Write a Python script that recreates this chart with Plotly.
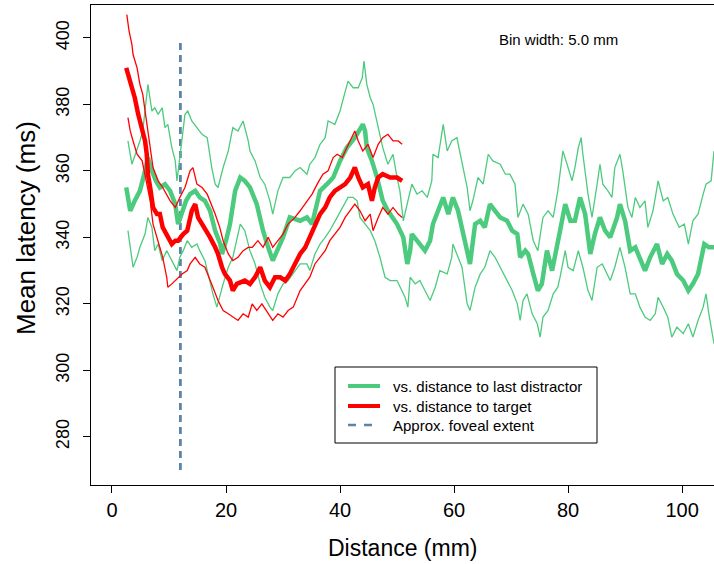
import plotly.graph_objects as go

# ---------------- data ----------------
# Green: latency vs. distance to last distractor (mean and band)
gm_x = [2.5,3.2,4.0,4.9,5.8,6.3,7.0,7.7,8.4,9.3,10.2,11.1,11.6,12.3,13.0,13.7,14.6,15.4,16.3,17.2,
        18.1,19.0,19.3,20.0,20.7,21.6,22.5,23.3,24.2,25.4,26.5,27.4,28.2,30.0,31.2,33.0,34.2,35.1,36.5,37.7,
        38.8,40.0,41.2,42.6,44.0,44.4,44.7,45.6,46.5,47.5,48.4,50.0,51.1,51.8,52.3,52.6,53.5,54.9,55.8,56.3,
        57.2,58.1,59.0,59.8,60.7,61.9,62.8,63.7,64.6,65.4,66.3,67.2,68.1,69.3,70.2,71.1,71.6,72.5,73.0,73.9,
        74.7,75.4,76.3,77.2,78.1,78.6,79.5,80.4,81.2,82.1,83.0,83.9,84.7,85.6,86.5,87.4,88.6,89.1,90.0,90.9,
        91.8,92.6,93.5,94.4,95.6,96.5,97.4,98.2,99.1,100.2,101.1,101.9,102.8,103.9,104.7,105.6]
gm_y = [355,348,351,354,360,364,360,357,355,356,354,350,344,348,351,353,354,352,351,348,
        342,338,335,339,344,354,358,357,355,350,342,337,333,340,346,345,346,344,354,356,
        358,363,367,370,374,372,367,363,358,351,348,344,340,332,336,341,339,336,339,344,
        348,352,347,352,348,339,332,344,345,343,350,348,346,345,342,341,334,336,335,329,
        324,326,336,330,337,342,350,345,345,352,347,335,341,346,342,340,346,350,345,336,
        337,334,330,334,338,332,335,333,329,327,324,326,329,338,337,337]

gu_x = [2.8,3.5,4.9,5.4,6.3,7.0,7.5,8.1,8.8,9.3,9.8,10.5,11.1,11.4,11.9,12.8,13.3,14.0,14.9,15.8,
        16.7,17.5,18.1,18.6,19.5,20.4,21.2,22.1,23.0,23.9,24.2,25.1,26.0,26.8,27.7,28.2,29.1,30.0,31.2,32.1,
        33.0,34.2,34.7,35.6,36.5,37.4,37.9,39.1,40.0,40.5,41.4,42.3,43.2,43.9,44.2,44.7,45.3,45.8,46.7,47.5,
        48.4,49.3,50.0,50.5,51.1,52.6,53.5,54.4,55.3,56.1,56.3,57.2,58.1,58.8,59.6,60.5,61.1,61.6,62.3,62.8,
        63.3,64.2,65.1,66.0,66.8,68.1,69.0,69.8,70.7,71.2,72.1,73.0,73.9,74.7,75.6,76.5,77.4,78.2,79.1,80.0,
        80.7,81.2,81.8,82.3,82.6,83.5,84.2,85.1,85.6,86.1,87.0,87.7,88.2,89.1,89.6,90.5,91.2,91.8,92.6,93.5,
        94.0,94.9,95.8,96.7,97.5,98.4,99.5,100.4,101.1,101.9,102.8,103.7,104.2,105.1,105.6]
gu_y = [369,362,369,372,386,378,379,377,379,373,374,367,363,357,364,377,378,375,373,371,
        370,361,356,355,361,366,373,372,375,369,366,363,358,356,351,347,354,358,358,360,
        361,359,362,364,368,370,375,374,378,381,387,385,385,388,393,386,382,380,373,367,
        362,365,358,354,345,356,353,354,352,357,365,364,374,366,369,370,365,361,355,348,
        351,358,356,365,363,362,359,359,356,346,350,347,339,336,346,348,346,354,366,361,
        357,361,367,370,365,353,346,356,362,356,354,352,361,365,360,349,346,352,349,351,
        343,348,357,351,352,347,343,344,338,345,347,353,356,357,366]

gl_x = [2.8,3.7,4.4,4.9,5.8,6.3,7.0,7.5,8.1,8.8,9.6,10.5,11.4,11.9,12.5,13.2,14.0,14.9,15.4,16.3,
        17.2,17.7,18.4,19.0,19.5,20.4,21.2,22.5,23.3,24.2,25.1,26.0,26.8,27.7,28.2,29.1,30.0,30.9,32.1,33.0,
        34.2,34.7,35.6,36.5,37.4,38.2,39.5,40.4,41.4,42.3,43.0,43.5,44.4,45.3,46.1,47.0,47.9,48.8,50.0,50.9,
        51.4,51.9,52.3,53.2,54.0,54.9,55.8,56.7,57.5,58.8,59.6,59.8,60.7,61.4,62.3,62.8,63.7,64.6,65.4,66.3,
        67.2,68.1,69.3,70.2,71.1,71.6,72.1,72.8,73.7,74.6,75.1,75.6,76.5,77.4,78.2,78.6,79.5,80.0,80.9,81.8,
        82.6,83.5,84.2,85.1,86.0,86.8,87.4,88.2,89.1,90.0,90.9,91.8,92.6,93.5,94.4,95.3,95.8,96.7,97.5,98.2,
        99.1,100.2,101.1,101.9,102.8,103.7,104.2,104.7,105.6]
gl_y = [342,331,334,337,341,346,343,336,338,333,336,333,330,334,336,339,337,338,336,333,
        326,323,319,323,326,331,334,344,342,336,332,326,322,319,318,323,326,327,330,332,
        332,330,335,338,340,342,346,349,352,352,351,346,344,342,339,334,328,327,327,324,
        322,319,328,326,327,324,321,325,330,329,334,338,334,331,320,318,325,329,331,336,
        334,331,327,324,320,315,321,323,317,314,310,316,318,323,325,328,336,331,330,336,
        331,324,321,331,332,329,327,331,337,331,323,323,319,316,315,317,322,319,316,310,
        313,311,314,310,315,319,323,317,308]

# Red: latency vs. distance to target (mean and band)
rm_x = [2.5,3.2,4.0,4.6,5.3,5.8,6.1,6.3,6.7,7.2,7.9,8.4,8.9,9.8,10.5,11.1,11.6,12.5,13.2,14.0,
        14.6,15.1,15.8,16.3,17.2,18.1,18.6,19.3,19.8,20.7,21.2,21.9,23.3,24.2,25.1,26.0,26.8,27.7,28.6,29.5,
        30.4,31.2,32.1,33.0,33.9,34.7,35.6,36.5,37.4,38.2,39.1,40.0,40.9,41.8,42.6,43.2,44.0,44.9,45.6,46.1,
        46.7,47.5,48.8,50.0,50.9]
rm_y = [391,387,382,377,373,369,365,359,355,349,347,347,343,340,338,339,339,341,342,348,
        350,346,344,343,340,337,335,331,329,327,324,326,327,326,328,331,327,325,328,328,
        327,329,332,335,337,340,343,347,349,352,354,355,356,358,361,358,355,356,351,355,
        358,359,358,358,357]

ru_x = [2.6,3.0,3.5,3.7,4.4,4.9,5.4,5.8,6.3,6.7,7.0,7.2,8.1,8.9,10.2,11.1,11.9,12.8,13.7,14.2,
        14.9,15.8,16.7,17.2,18.1,18.9,19.5,20.4,21.2,22.1,23.0,23.9,24.6,25.6,26.5,27.4,28.2,29.1,30.0,30.9,
        32.1,33.0,33.9,35.1,36.0,37.0,37.9,38.8,39.5,40.4,41.2,42.6,43.2,44.0,44.9,45.8,46.7,47.5,48.4,49.3,
        50.2,50.9]
ru_y = [407,402,398,395,391,386,383,378,371,367,362,361,357,355,351,349,352,355,360,361,
        356,355,353,351,347,343,339,335,333,334,336,337,337,339,337,340,337,339,341,344,
        346,348,350,353,356,359,360,364,365,364,367,372,369,366,368,364,368,370,371,369,
        369,368]

rl_x = [2.8,3.2,3.7,4.4,5.3,5.8,6.3,6.7,7.2,7.9,8.4,8.9,9.6,9.8,10.5,11.1,11.6,12.3,13.2,13.7,
        14.6,15.4,16.3,16.8,17.7,18.6,19.5,20.4,21.2,22.1,23.0,23.9,24.6,25.4,26.3,27.4,28.2,29.1,30.0,30.9,
        31.8,33.0,33.9,34.7,35.6,36.5,37.4,38.2,39.1,40.0,40.9,41.8,42.6,43.5,44.4,45.3,45.8,46.7,47.5,48.4,
        49.3,50.2,50.9]
rl_y = [376,372,369,365,363,359,355,351,344,340,337,334,328,325,326,327,328,329,330,332,
        334,332,331,329,325,321,318,317,316,315,317,316,320,318,320,317,315,317,316,318,
        319,324,326,328,332,334,336,339,341,343,346,348,350,348,345,347,342,346,349,347,
        349,347,346]

foveal_x = 12
foveal_y = [270, 400]

legend_names = ["vs. distance to last distractor", "vs. distance to target", "Approx. foveal extent"]
x_ticks = [0, 20, 40, 60, 80, 100]
y_ticks = [280, 300, 320, 340, 360, 380, 400]

GREEN = "#4CCB7E"
RED = "#FF0000"
BLUE = "#5B84A8"
FONT = "Liberation Sans, Arial, Helvetica, sans-serif"

fig = go.Figure()

fig.add_trace(go.Scatter(x=[foveal_x, foveal_x], y=foveal_y, mode="lines",
                         line=dict(color=BLUE, width=2.8, dash="7px,5px"),
                         name=legend_names[2], showlegend=False, hoverinfo="skip"))

for xs, ys in [(gu_x, gu_y), (gl_x, gl_y)]:
    fig.add_trace(go.Scatter(x=xs, y=ys, mode="lines", line=dict(color=GREEN, width=1.3),
                             showlegend=False))
fig.add_trace(go.Scatter(x=gm_x, y=gm_y, mode="lines", line=dict(color=GREEN, width=4.5),
                         name=legend_names[0], showlegend=False))

for xs, ys in [(ru_x, ru_y), (rl_x, rl_y)]:
    fig.add_trace(go.Scatter(x=xs, y=ys, mode="lines", line=dict(color=RED, width=1.3),
                             showlegend=False))
fig.add_trace(go.Scatter(x=rm_x, y=rm_y, mode="lines", line=dict(color=RED, width=4.5),
                         name=legend_names[1], showlegend=False))

# ---- legend box drawn in paper coordinates (plot area: x 91..714 px, y 5..485 px) ----
def px_x(p):
    return (p - 91) / 623.0

def px_y(p):
    return (485 - p) / 480.0

shapes = [
    dict(type="rect", xref="paper", yref="paper", x0=px_x(335), x1=px_x(597),
         y0=px_y(443), y1=px_y(367), line=dict(color="black", width=1), fillcolor="white",
         layer="above"),
]
legend_rows = [(386, GREEN, 4, "solid"), (406, RED, 4, "solid"), (425, BLUE, 2.5, "8px,8px")]
annotations = []
for (ry, col, w, dsh), name in zip(legend_rows, legend_names):
    shapes.append(dict(type="line", xref="paper", yref="paper", x0=px_x(348), x1=px_x(380),
                       y0=px_y(ry), y1=px_y(ry), line=dict(color=col, width=w, dash=dsh),
                       layer="above"))
    annotations.append(dict(text=name, xref="paper", yref="paper", x=px_x(391), y=px_y(ry),
                            xanchor="left", yanchor="middle", showarrow=False,
                            font=dict(size=15)))

annotations += [
    dict(text="Bin width: 5.0 mm", xref="paper", yref="paper", x=px_x(497), y=px_y(40),
         xanchor="left", yanchor="middle", showarrow=False, font=dict(size=15)),
    dict(text="Distance (mm)", xref="paper", yref="paper", x=0.5, y=px_y(548),
         xanchor="center", yanchor="middle", showarrow=False, font=dict(size=23)),
    dict(text="Mean latency (ms)", xref="paper", yref="paper", x=px_x(26), y=px_y(228),
         xanchor="center", yanchor="middle", textangle=-90, showarrow=False,
         font=dict(size=26)),
]

fig.update_layout(
    width=714, height=564,
    margin=dict(l=91, r=0, t=5, b=79),
    paper_bgcolor="white", plot_bgcolor="white",
    font=dict(family=FONT, color="black"),
    showlegend=False,
    shapes=shapes,
    annotations=annotations,
)
fig.update_xaxes(range=[-3.68, 105.6], tickvals=x_ticks, ticks="outside", ticklen=7,
                 tickcolor="black", tickfont=dict(size=20), showgrid=False, zeroline=False,
                 showline=True, linecolor="black", linewidth=1, mirror=True)
fig.update_yaxes(range=[265.5, 409.9], tickvals=y_ticks, ticks="outside", ticklen=7,
                 tickcolor="black", tickfont=dict(size=18), tickangle=-90, showgrid=False,
                 zeroline=False, showline=True, linecolor="black", linewidth=1, mirror=False,
                 ticklabelstandoff=7)

fig.write_html("out.html", config={"displayModeBar": False},
               post_script="document.body.style.margin='0';")
